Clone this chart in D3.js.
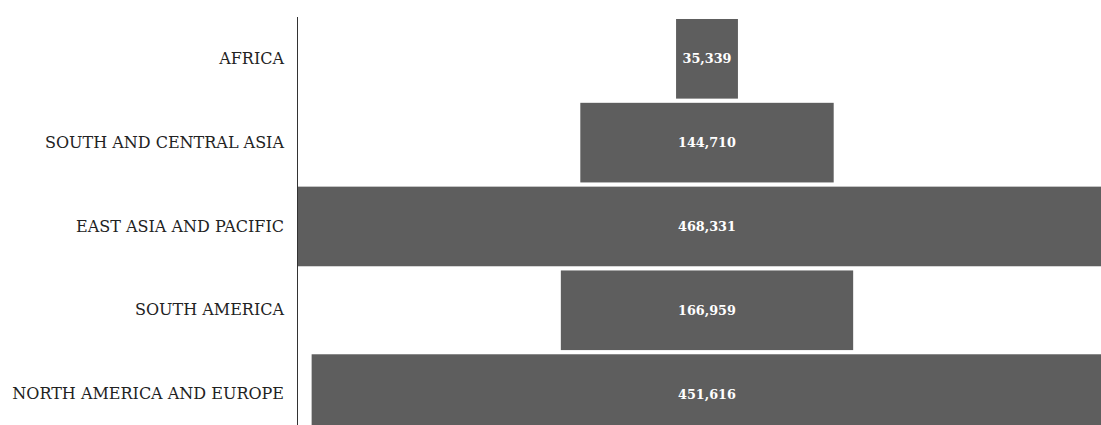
<!DOCTYPE html>
<html><head><meta charset="utf-8">
<script src="https://cdn.jsdelivr.net/npm/d3@7"></script>
<style>
html,body{margin:0;padding:0;background:#fff;overflow:hidden}
svg{display:block}
</style></head>
<body>
<svg id="chart" width="1101" height="425"></svg>
<script>
const categories = ["AFRICA","SOUTH AND CENTRAL ASIA","EAST ASIA AND PACIFIC","SOUTH AMERICA","NORTH AMERICA AND EUROPE"];
const values = [35339, 144710, 468331, 166959, 451616];

const svg = d3.select("#chart");
const left = 297, plotW = 820;
const y = d3.scaleBand().domain(categories).range([16.9, 436]).paddingInner(0.05).paddingOuter(0.025);
const w = d3.scaleLinear().domain([0, d3.max(values)]).range([0, plotW]);
const cx = left + plotW / 2;

svg.selectAll("rect.bar").data(categories).join("rect")
  .attr("class","bar")
  .attr("x", (d,i) => cx - w(values[i]) / 2)
  .attr("y", d => y(d))
  .attr("width", (d,i) => w(values[i]))
  .attr("height", y.bandwidth())
  .attr("fill", "#5e5e5e");

svg.selectAll("text.val").data(categories).join("text")
  .attr("class","val")
  .attr("x", cx)
  .attr("y", d => y(d) + y.bandwidth() / 2)
  .attr("dy", "0.35em")
  .attr("text-anchor","middle")
  .attr("fill","#fff")
  .style("font-family","'DejaVu Serif', serif")
  .style("font-weight","bold")
  .style("font-size","12.8px")
  .text((d,i) => d3.format(",")(values[i]));

const axis = d3.axisLeft(y).tickSize(0).tickPadding(13);
const g = svg.append("g").attr("transform", `translate(${left},0)`).call(axis);
g.select(".domain").attr("d", `M0.5,17V425`).attr("stroke","#333").attr("stroke-width",1);
g.selectAll("text").style("font-family","'DejaVu Serif', serif").style("font-size","16px").attr("fill","#222");
</script>
</body></html>
